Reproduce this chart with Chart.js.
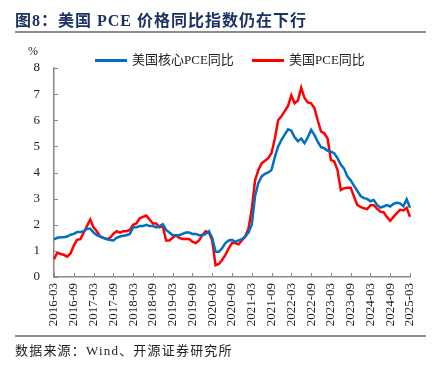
<!DOCTYPE html>
<html>
<head>
<meta charset="utf-8">
<script src="https://cdn.jsdelivr.net/npm/chart.js@4"></script>
<style>
  body { margin: 0; background: #fff; }
  #wrap { position: relative; width: 436px; height: 369px; overflow: hidden; }
  #title { position: absolute; left: 15px; top: 7px; font: bold 16px "Liberation Serif", "Noto Sans CJK SC"; letter-spacing: 1px; color: #1c3262; white-space: nowrap; }
  .rule { position: absolute; left: 15px; width: 411px; height: 2px; background: #8c8c8c; }
  #unit { position: absolute; left: 28px; top: 44px; font: 12px "Liberation Serif"; color: #222; }
  .leg { position: absolute; top: 49px; font: 13px "Liberation Serif", "Noto Sans CJK SC"; color: #222; white-space: nowrap; }
  .leg i { display: inline-block; width: 32px; height: 3px; vertical-align: middle; margin-right: 5px; position: relative; top: -1px; }
  #source { position: absolute; left: 15px; top: 340px; font: 13px "Liberation Serif", "Noto Sans CJK SC"; letter-spacing: 1.2px; color: #222; white-space: nowrap; }
  canvas { position: absolute; left: 0; top: 0; }
</style>
</head>
<body>
<div id="wrap">
  <canvas id="c" width="436" height="369"></canvas>
  <div id="title">图8：美国 PCE 价格同比指数仍在下行</div>
  <div class="rule" style="top:31px"></div>
  <div id="unit">%</div>
  <div class="leg" style="left:95px"><i style="background:#0070c0"></i>美国核心PCE同比</div>
  <div class="leg" style="left:252px"><i style="background:#ff0000"></i>美国PCE同比</div>
  <div class="rule" style="top:335px"></div>
  <div id="source">数据来源：Wind、开源证券研究所</div>
</div>
<script>
// 月份 2016-03 ~ 2025-03
const months = [];
for (let y = 2016; y <= 2025; y++) {
  for (let m = 1; m <= 12; m++) {
    if ((y === 2016 && m < 3) || (y === 2025 && m > 3)) continue;
    months.push(y + '-' + String(m).padStart(2, '0'));
  }
}

const seriesNames = ['美国核心PCE同比', '美国PCE同比'];

const corePce = [
  1.44, 1.50, 1.52, 1.52, 1.55, 1.62, 1.65, 1.72, 1.72, 1.75,
  1.85, 1.85, 1.70, 1.60, 1.55, 1.50, 1.45, 1.42, 1.40, 1.50,
  1.55, 1.58, 1.60, 1.65, 1.90, 1.90, 1.95, 1.95, 2.00, 1.95,
  1.95, 1.90, 1.95, 2.02, 1.80, 1.70, 1.60, 1.60, 1.60, 1.65,
  1.70, 1.70, 1.65, 1.65, 1.60, 1.60, 1.65, 1.75, 1.50, 0.97,
  0.97, 1.10, 1.30, 1.40, 1.42, 1.35, 1.40, 1.45, 1.55, 1.70,
  2.00, 3.10, 3.60, 3.85, 3.95, 4.00, 4.10, 4.60, 5.00, 5.25,
  5.45, 5.65, 5.60, 5.35, 5.20, 5.30, 5.12, 5.35, 5.63, 5.44,
  5.18, 4.97, 4.93, 4.83, 4.80, 4.74, 4.55, 4.30, 4.15, 3.85,
  3.70, 3.50, 3.30, 3.10, 3.02, 2.99, 2.90, 2.95, 2.76, 2.66,
  2.70, 2.75, 2.70, 2.80, 2.84, 2.82, 2.71, 2.98, 2.65
];

const headlinePce = [
  0.68, 0.93, 0.88, 0.85, 0.78, 0.90, 1.20, 1.42, 1.45, 1.70,
  1.95, 2.20, 1.90, 1.75, 1.55, 1.50, 1.45, 1.50, 1.65, 1.75,
  1.70, 1.75, 1.75, 1.80, 2.00, 2.05, 2.25, 2.30, 2.35, 2.20,
  2.05, 2.05, 1.90, 1.95, 1.40, 1.40, 1.50, 1.60, 1.50, 1.45,
  1.45, 1.45, 1.35, 1.30, 1.40, 1.60, 1.75, 1.70, 1.40, 0.45,
  0.50, 0.65, 0.85, 1.10, 1.30, 1.30, 1.25, 1.40, 1.55, 1.85,
  2.60, 3.70, 4.10, 4.35, 4.45, 4.55, 4.75, 5.30, 6.00, 6.15,
  6.35, 6.55, 6.95, 6.65, 6.75, 7.25, 6.85, 6.68, 6.65, 6.47,
  6.00, 5.57, 5.50, 5.30, 4.48, 4.42, 4.10, 3.33, 3.40, 3.42,
  3.42, 3.08, 2.76, 2.68, 2.63, 2.60, 2.75, 2.75, 2.62, 2.50,
  2.48, 2.30, 2.15, 2.30, 2.45, 2.57, 2.55, 2.65, 2.30
];

const yTicks = [0, 1, 2, 3, 4, 5, 6, 7, 8];

const axisColor = '#8a8a8a';
const serif = '"Liberation Serif", "Times New Roman", serif';

// 刻度线朝内画
const innerTicks = {
  id: 'innerTicks',
  afterDatasetsDraw(chart) {
    const { ctx, chartArea, scales } = chart;
    ctx.save();
    ctx.strokeStyle = axisColor;
    ctx.lineWidth = 1;
    ctx.beginPath();
    yTicks.forEach(v => {
      const y = Math.round(scales.y.getPixelForValue(v)) + 0.5;
      ctx.moveTo(chartArea.left, y);
      ctx.lineTo(chartArea.left + 4, y);
    });
    scales.x.ticks.forEach(t => {
      const x = Math.round(scales.x.getPixelForValue(t.value)) + 0.5;
      ctx.moveTo(x, chartArea.bottom);
      ctx.lineTo(x, chartArea.bottom - 4);
    });
    ctx.stroke();
    ctx.restore();
  }
};

new Chart(document.getElementById('c'), {
  type: 'line',
  data: {
    labels: months,
    datasets: [
      {
        label: seriesNames[0],
        data: corePce,
        borderColor: '#0070c0',
        borderWidth: 2.5,
        pointRadius: 0,
        tension: 0
      },
      {
        label: seriesNames[1],
        data: headlinePce,
        borderColor: '#ff0000',
        borderWidth: 2.5,
        pointRadius: 0,
        tension: 0
      }
    ]
  },
  options: {
    responsive: false,
    animation: false,
    layout: { padding: { top: 68, left: 0, right: 26, bottom: 0 } },
    plugins: {
      legend: { display: false },
      tooltip: { enabled: false }
    },
    scales: {
      x: {
        type: 'category',
        offset: false,
        afterFit: s => { s.height = 92; },
        afterBuildTicks: s => { s.ticks = s.ticks.filter((t, i) => i % 6 === 0); },
        grid: { display: true, drawOnChartArea: false, drawTicks: false },
        border: { color: axisColor, width: 1.5 },
        ticks: {
          autoSkip: false,
          minRotation: 90,
          maxRotation: 90,
          padding: 6,
          color: '#222',
          font: { family: serif, size: 13 },
          callback: function (v) { return this.getLabelForValue(v); }
        }
      },
      y: {
        min: 0,
        max: 8,
        afterFit: s => { s.width = 54; },
        afterBuildTicks: s => { s.ticks = yTicks.map(v => ({ value: v })); },
        grid: { display: true, drawOnChartArea: false, drawTicks: false },
        border: { color: axisColor, width: 1.5 },
        ticks: {
          padding: 14,
          color: '#222',
          font: { family: serif, size: 13 }
        }
      }
    }
  },
  plugins: [innerTicks]
});
</script>
</body>
</html>
